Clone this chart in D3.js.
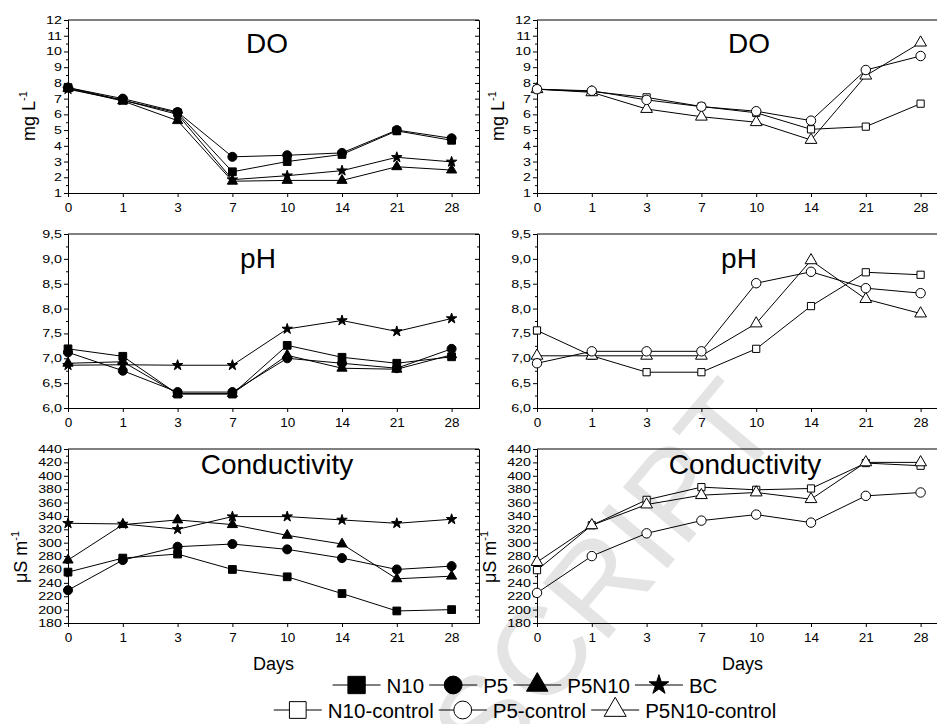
<!DOCTYPE html>
<html>
<head>
<meta charset="utf-8">
<script src="https://cdn.jsdelivr.net/npm/d3@7"></script>
<style>
  body { margin: 0; background: #fff; }
  svg { font-family: "Liberation Sans", Arial, sans-serif; }
</style>
</head>
<body>
<svg id="chart" width="937" height="724"></svg>
<script>
// sampling days (equally spaced on the axis)
const days = ["0", "1", "3", "7", "10", "14", "21", "28"];

// dissolved oxygen, mg L-1
const doN10    = [7.7, 6.9, 6.1, 2.35, 3.0, 3.45, 4.95, 4.35];
const doP5     = [7.7, 7.0, 6.15, 3.3, 3.4, 3.55, 5.0, 4.48];
const doP5N10  = [7.65, 6.85, 5.6, 1.75, 1.8, 1.8, 2.67, 2.46];
const doBC     = [7.6, 6.9, 6.0, 1.85, 2.1, 2.42, 3.27, 2.98];
const doN10c   = [7.6, 7.45, 7.08, 6.5, 6.1, 5.05, 5.22, 6.68];
const doP5c    = [7.6, 7.5, 6.92, 6.49, 6.2, 5.6, 8.82, 9.71];
const doP5N10c = [7.6, 7.4, 6.34, 5.85, 5.5, 4.37, 8.46, 10.56];

// pH
const phN10    = [7.19, 7.04, 6.28, 6.28, 7.26, 7.02, 6.9, 7.03];
const phP5     = [7.12, 6.75, 6.32, 6.32, 7.0, 6.9, 6.8, 7.19];
const phP5N10  = [6.9, 6.93, 6.29, 6.29, 7.06, 6.8, 6.78, 7.07];
const phBC     = [6.86, 6.87, 6.86, 6.86, 7.59, 7.76, 7.54, 7.8];
const phN10c   = [7.56, 7.05, 6.72, 6.72, 7.19, 8.05, 8.73, 8.68];
const phP5c    = [6.9, 7.14, 7.14, 7.14, 8.51, 8.74, 8.41, 8.31];
const phP5N10c = [7.05, 7.05, 7.05, 7.05, 7.7, 8.97, 8.19, 7.9];

// conductivity, uS m-1
const condN10    = [256, 277, 283, 260, 249, 224, 198, 200];
const condP5     = [229, 274, 294, 298, 290, 277, 260, 265];
const condP5N10  = [274, 327, 334, 327, 311, 298, 246, 250];
const condBC     = [329, 328, 320, 339, 339, 334, 329, 335];
const condN10c   = [259, 326, 364, 383, 379, 381, 419, 415];
const condP5c    = [225, 280, 314, 333, 342, 330, 370, 375];
const condP5N10c = [271, 326, 357, 371, 375, 365, 420, 420];

// marker styles
const mk = {
  N10:      { sym: d3.symbolSquare,   size: 60, fill: "#000", leg: 300 },
  P5:       { sym: d3.symbolCircle,   size: 64, fill: "#000", leg: 250 },
  P5N10:    { sym: d3.symbolTriangle, size: 45, fill: "#000", leg: 200 },
  BC:       { sym: d3.symbolStar,     size: 34, fill: "#000", leg: 120 },
  N10c:     { sym: d3.symbolSquare,   size: 52, fill: "#fff", leg: 280 },
  P5c:      { sym: d3.symbolCircle,   size: 70, fill: "#fff", leg: 250 },
  P5N10c:   { sym: d3.symbolTriangle, size: 60, fill: "#fff", leg: 210 }
};

const commaFmt = f => v => d3.format(f)(v).replace(".", ",");

const panels = [
  { col: 0, row: 0, title: "DO", tx: 267, domain: [1, 12], major: d3.range(1, 12.01, 1), minor: d3.range(1.5, 12, 1),
    fmt: d3.format("d"), label: ["mg L", "-1"], labY: 116,
    series: [[doBC, "BC"], [doP5N10, "P5N10"], [doN10, "N10"], [doP5, "P5"]] },
  { col: 1, row: 0, title: "DO", tx: 749, domain: [1, 12], major: d3.range(1, 12.01, 1), minor: d3.range(1.5, 12, 1),
    fmt: d3.format("d"), label: ["mg L", "-1"], labY: 116,
    series: [[doN10c, "N10c"], [doP5N10c, "P5N10c"], [doP5c, "P5c"]] },
  { col: 0, row: 1, title: "pH", tx: 258, domain: [6, 9.5], major: d3.range(6, 9.51, 0.5), minor: d3.range(6.25, 9.5, 0.5),
    fmt: commaFmt(".1f"), label: null,
    series: [[phBC, "BC"], [phP5N10, "P5N10"], [phN10, "N10"], [phP5, "P5"]] },
  { col: 1, row: 1, title: "pH", tx: 739, domain: [6, 9.5], major: d3.range(6, 9.51, 0.5), minor: d3.range(6.25, 9.5, 0.5),
    fmt: commaFmt(".1f"), label: null,
    series: [[phN10c, "N10c"], [phP5N10c, "P5N10c"], [phP5c, "P5c"]] },
  { col: 0, row: 2, title: "Conductivity", tx: 277, domain: [180, 440], major: d3.range(180, 441, 20), minor: d3.range(190, 440, 20),
    fmt: d3.format("d"), label: ["\u03bcS m", "-1"], labY: 557,
    series: [[condBC, "BC"], [condP5N10, "P5N10"], [condN10, "N10"], [condP5, "P5"]] },
  { col: 1, row: 2, title: "Conductivity", tx: 745, domain: [180, 440], major: d3.range(180, 441, 20), minor: d3.range(190, 440, 20),
    fmt: d3.format("d"), label: ["\u03bcS m", "-1"], labY: 557,
    series: [[condN10c, "N10c"], [condP5N10c, "P5N10c"], [condP5c, "P5c"]] }
];

const colX = [68, 537];
const plotW = 411;              // 7.5 category steps
const rowY = [[20, 193], [234, 408], [449, 623]];
const titleBase = [53, 268, 474];

const svg = d3.select("#chart");

// faint manuscript watermark behind everything
svg.append("text")
  .attr("transform", "translate(785,428) rotate(-50)")
  .attr("text-anchor", "end")
  .attr("font-size", 125)
  .attr("fill", "#e4e4e4")
  .text("MANUSCRIPT");

function styleAxis(g) {
  g.attr("font-family", null).attr("font-size", null);
  g.selectAll("path, line").attr("stroke", "#000").attr("stroke-width", 1);
  g.selectAll("text").attr("fill", "#000");
}

panels.forEach(p => {
  const x0 = colX[p.col], x1 = x0 + plotW;
  const [yt, yb] = rowY[p.row];
  const x = d3.scaleLinear().domain([0, 7.5]).range([x0, x1]);
  const y = d3.scaleLinear().domain(p.domain).range([yb, yt]);
  const g = svg.append("g");

  // frame: top line
  g.append("line").attr("x1", x0).attr("x2", x1).attr("y1", yt).attr("y2", yt)
    .attr("stroke", "#000");

  // bottom axis
  const xa = g.append("g").attr("transform", `translate(0,${yb})`)
    .call(d3.axisBottom(x).tickValues(d3.range(days.length)).tickFormat(i => days[i])
      .tickSize(4).tickSizeOuter(0).tickPadding(5));
  styleAxis(xa);
  xa.selectAll("text").attr("font-size", 13.5);

  // left axis, major + minor
  const ya = g.append("g").attr("transform", `translate(${x0},0)`)
    .call(d3.axisLeft(y).tickValues(p.major).tickFormat(p.fmt).tickSize(4).tickSizeOuter(0).tickPadding(2));
  styleAxis(ya);
  ya.selectAll("text").attr("font-size", 11).attr("x", -6 / 1.3).attr("transform", "scale(1.3,1)");
  const ym = g.append("g").attr("transform", `translate(${x0},0)`)
    .call(d3.axisLeft(y).tickValues(p.minor).tickFormat("").tickSize(2).tickSizeOuter(0));
  styleAxis(ym);

  // right edge with inward ticks
  const yr = g.append("g").attr("transform", `translate(${x1},0)`)
    .call(d3.axisLeft(y).tickValues(p.major).tickFormat("").tickSize(4).tickSizeOuter(0));
  styleAxis(yr);
  const yrm = g.append("g").attr("transform", `translate(${x1},0)`)
    .call(d3.axisLeft(y).tickValues(p.minor).tickFormat("").tickSize(2).tickSizeOuter(0));
  styleAxis(yrm);

  // panel title
  g.append("text").attr("x", p.tx).attr("y", titleBase[p.row])
    .attr("text-anchor", "middle").attr("font-size", 28).text(p.title);

  // y label
  if (p.label) {
    const off = p.row === 2 ? 41 : 33;
    const t = g.append("text")
      .attr("transform", `translate(${x0 - off},${p.labY}) rotate(-90)`)
      .attr("text-anchor", "middle").attr("font-size", 18);
    t.append("tspan").text(p.label[0]);
    t.append("tspan").attr("dy", -8).attr("font-size", 11).text(p.label[1]);
  }

  // lines
  const line = d3.line().x((d, i) => x(i)).y(d => y(d));
  p.series.forEach(([vals]) => {
    g.append("path").datum(vals).attr("d", line)
      .attr("fill", "none").attr("stroke", "#000").attr("stroke-width", 1);
  });
  // markers
  p.series.forEach(([vals, key]) => {
    const m = mk[key];
    g.selectAll(null).data(vals).enter().append("path")
      .attr("transform", (d, i) => `translate(${x(i)},${y(d)})`)
      .attr("d", d3.symbol().type(m.sym).size(m.size))
      .attr("fill", m.fill).attr("stroke", "#000").attr("stroke-width", 1);
  });

  // x title
  if (p.row === 2) {
    g.append("text").attr("x", (x0 + x1) / 2).attr("y", 670)
      .attr("text-anchor", "middle").attr("font-size", 18).text("Days");
  }
});

// legend, two centred rows
const legendRows = [
  { y: 685, items: [["N10", "N10"], ["P5", "P5"], ["P5N10", "P5N10"], ["BC", "BC"]] },
  { y: 710, items: [["N10-control", "N10c"], ["P5-control", "P5c"], ["P5N10-control", "P5N10c"]] }
];
const segW = 48, legFont = 20.5;
legendRows.forEach(r => {
  const g = svg.append("g");
  let cx = 0;
  r.items.forEach(([label, key]) => {
    const m = mk[key];
    g.append("line").attr("x1", cx).attr("x2", cx + segW).attr("y1", r.y).attr("y2", r.y)
      .attr("stroke", "#000");
    g.append("path").attr("transform", `translate(${cx + segW / 2},${r.y})`)
      .attr("d", d3.symbol().type(m.sym).size(m.leg))
      .attr("fill", m.fill).attr("stroke", "#000");
    const t = g.append("text").attr("x", cx + segW + 6).attr("y", r.y + 7.5)
      .attr("font-size", legFont).text(label);
    cx += segW + 6 + t.node().getComputedTextLength() + 5;
  });
  const total = cx - 5;
  g.attr("transform", `translate(${525 - total / 2},0)`);
});
</script>
</body>
</html>
